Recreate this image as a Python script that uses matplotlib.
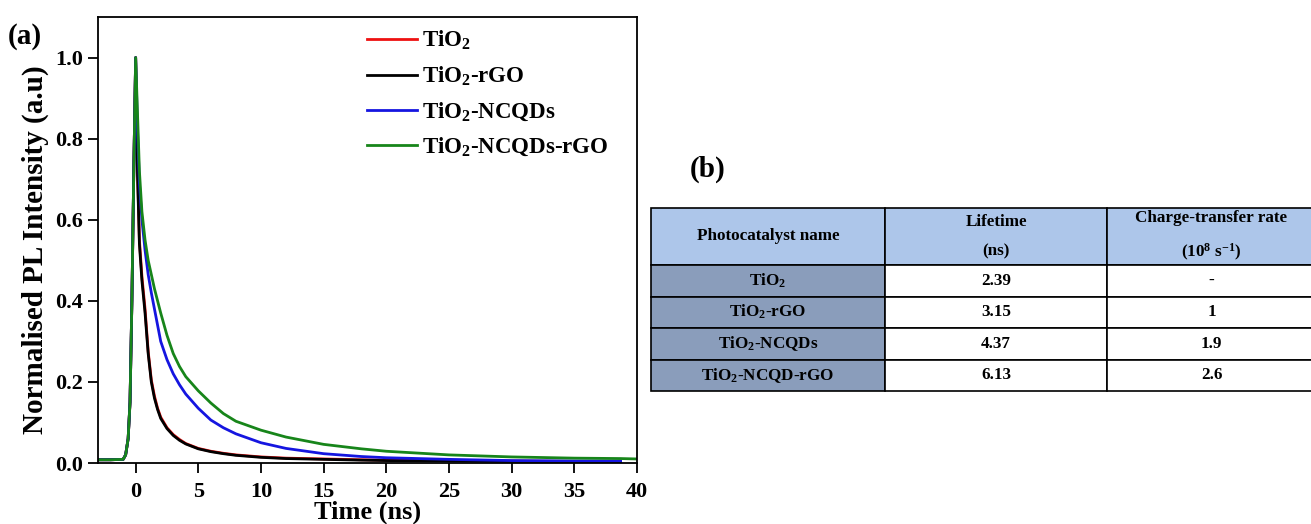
import matplotlib
matplotlib.use('Agg')
import matplotlib.pyplot as plt

plt.rcParams['font.family'] = ['Liberation Serif', 'DejaVu Serif']
plt.rcParams['font.weight'] = 'bold'
plt.rcParams['mathtext.fontset'] = 'custom'
plt.rcParams['mathtext.rm'] = 'Liberation Serif:bold'
plt.rcParams['mathtext.it'] = 'Liberation Serif:bold'
plt.rcParams['mathtext.bf'] = 'Liberation Serif:bold'

# PL decay curves
t_decay = [-3, -2, -1, -0.8, -0.6, -0.45, -0.3, -0.15, 0, 0.15, 0.3, 0.5, 0.75, 1, 1.25,
           1.5, 1.75, 2, 2.5, 3, 3.5, 4, 5, 6, 7, 8, 10, 12, 15, 18, 20, 25, 30, 35, 38.7]
t_green = t_decay + [40]
rise = [0.008, 0.008, 0.009, 0.02, 0.06, 0.15, 0.40, 0.72, 1.00]

tio2 = rise + [0.72, 0.55, 0.46, 0.38, 0.275, 0.205, 0.165, 0.135, 0.113, 0.087, 0.07, 0.058,
               0.048, 0.036, 0.029, 0.024, 0.02, 0.015, 0.012, 0.01, 0.008, 0.007, 0.006,
               0.005, 0.004, 0.004]
tio2_rgo = rise + [0.71, 0.54, 0.45, 0.37, 0.27, 0.20, 0.16, 0.132, 0.11, 0.085, 0.068, 0.056,
                   0.047, 0.035, 0.028, 0.023, 0.019, 0.014, 0.011, 0.009, 0.007, 0.006, 0.005,
                   0.004, 0.004, 0.004]
tio2_ncqd = rise + [0.82, 0.69, 0.60, 0.525, 0.465, 0.42, 0.38, 0.34, 0.30, 0.255, 0.22, 0.193,
                    0.17, 0.135, 0.106, 0.087, 0.072, 0.05, 0.036, 0.023, 0.016, 0.013, 0.009,
                    0.006, 0.005, 0.005]
tio2_ncqd_rgo = rise + [0.86, 0.72, 0.62, 0.55, 0.50, 0.465, 0.43, 0.40, 0.37, 0.315, 0.27, 0.238,
                        0.213, 0.178, 0.148, 0.122, 0.103, 0.081, 0.064, 0.046, 0.035, 0.029, 0.02,
                        0.015, 0.012, 0.011, 0.01]

# table (b)
col_labels = ['Photocatalyst name', 'Lifetime\n(ns)', 'Charge-transfer rate\n(10$^{8}$ s$^{-1}$)']
names = ['TiO$_2$', 'TiO$_2$-rGO', 'TiO$_2$-NCQDs', 'TiO$_2$-NCQD-rGO']
lifetimes = ['2.39', '3.15', '4.37', '6.13']
rates = ['-', '1', '1.9', '2.6']

fig = plt.figure(figsize=(13.11, 5.24), dpi=100)
ax = fig.add_axes([0.0748, 0.1164, 0.411, 0.851])

ax.plot(t_decay, tio2, color='#ee1111', lw=2.0, label='TiO$_2$')
ax.plot(t_decay, tio2_rgo, color='black', lw=2.0, label='TiO$_2$-rGO')
ax.plot(t_decay, tio2_ncqd, color='#1515e0', lw=2.0, label='TiO$_2$-NCQDs')
ax.plot(t_green, tio2_ncqd_rgo, color='#17851a', lw=2.0, label='TiO$_2$-NCQDs-rGO')

ax.set_xlim(-3, 40)
ax.set_ylim(0, 1.1)
ax.set_xticks(range(0, 41, 5))
ax.set_yticks([0.0, 0.2, 0.4, 0.6, 0.8, 1.0])
ax.set_yticklabels(['0.0', '0.2', '0.4', '0.6', '0.8', '1.0'])
ax.tick_params(direction='out', length=7.5, width=1.3, labelsize=16, pad=3.5)
ax.tick_params(axis='x', pad=6)
for s in ax.spines.values():
    s.set_linewidth(1.3)
ax.set_xlabel('Time (ns)', fontsize=19, fontweight='bold', labelpad=-1)
ax.set_ylabel('Normalised PL Intensity (a.u)', fontsize=21, fontweight='bold')
ax.yaxis.set_label_coords(-0.091, 0.478)
ax.legend(loc='upper left', bbox_to_anchor=(0.46, 1.02), frameon=False, fontsize=16.5,
          handlelength=2.2, handletextpad=0.2, labelspacing=0.55)

fig.text(0.006, 0.93, '(a)', fontsize=21, fontweight='bold', va='center')
fig.text(0.526, 0.676, '(b)', fontsize=21, fontweight='bold', va='center')

# table
tax = fig.add_axes([651 / 1311, 1 - 391 / 524, 665 / 1311, 183 / 524])
tax.axis('off')
rows = [[n, l, r] for n, l, r in zip(names, lifetimes, rates)]
tab = tax.table(cellText=rows, colLabels=col_labels, cellLoc='center',
                colWidths=[234, 222, 209], bbox=[0, 0, 1, 1])
tab.auto_set_font_size(False)
tab.set_fontsize(12.3)
for (r, c), cell in tab.get_celld().items():
    cell.set_edgecolor('black')
    cell.set_linewidth(1.2)
    cell.get_text().set_fontweight('bold')
    if r == 0:
        cell.set_facecolor('#adc6ea')
        cell.set_height(cell.get_height() * 57 / 31.5)
        cell.get_text().set_linespacing(2.1)
    elif c == 0:
        cell.set_facecolor('#8a9dbb')
    else:
        cell.set_facecolor('white')

fig.savefig('out.png', dpi=100)
